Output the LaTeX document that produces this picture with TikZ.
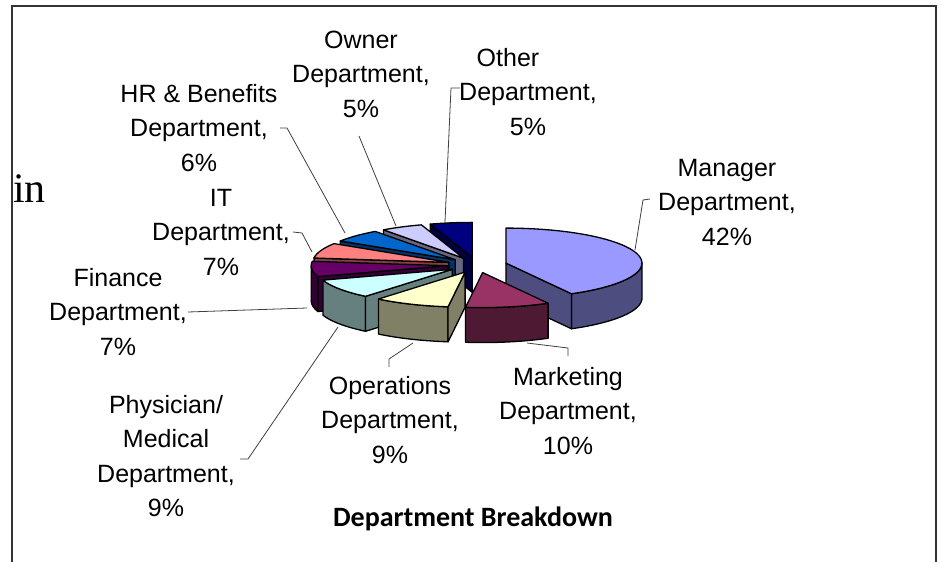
\documentclass[tikz,border=0pt]{standalone}
\usepackage{fontspec}
\setmainfont{Liberation Sans}
\newfontfamily\titlefont{Carlito}
\newfontfamily\seriffont{Liberation Serif}
\definecolor{cMan}{HTML}{9999FF}\definecolor{sMan}{HTML}{4D4D80}
\definecolor{cMkt}{HTML}{993366}\definecolor{sMkt}{HTML}{4D1933}
\definecolor{cOps}{HTML}{FFFFCC}\definecolor{sOps}{HTML}{808066}
\definecolor{cPhy}{HTML}{CCFFFF}\definecolor{sPhy}{HTML}{668080}
\definecolor{cFin}{HTML}{660066}\definecolor{sFin}{HTML}{330033}
\definecolor{cIT}{HTML}{FF8080}\definecolor{sIT}{HTML}{804040}
\definecolor{cHR}{HTML}{0066CC}\definecolor{sHR}{HTML}{003366}
\definecolor{cOwn}{HTML}{CCCCFF}\definecolor{sOwn}{HTML}{666680}
\definecolor{cOth}{HTML}{000080}\definecolor{sOth}{HTML}{000040}
\def\cx{477}\def\cy{265}\def\rx{136}\def\ry{35}\def\hh{35}\def\ex{0.22}
\newcommand\pslice[8]{%
  \pgfmathsetmacro\mm{(#1+#2)/2}%
  \pgfmathsetmacro\px{\cx+\ex*\rx*cos(\mm)}%
  \pgfmathsetmacro\py{\cy-\ex*\ry*sin(\mm)}%
  \if\relax\detokenize{#5}\relax\else
    \filldraw[slice,fill=#4] plot[domain=#5:#6,samples=30] ({\px+\rx*cos(\x)},{\py-\ry*sin(\x)}) -- plot[domain=#6:#5,samples=30] ({\px+\rx*cos(\x)},{\py+\hh-\ry*sin(\x)}) -- cycle;
  \fi
  \ifnum#7=1 \filldraw[slice,fill=#4] (\px,\py) -- ({\px+\rx*cos(#1)},{\py-\ry*sin(#1)}) -- ++(0,\hh) -- (\px,{\py+\hh}) -- cycle;\fi
  \ifnum#8=1 \filldraw[slice,fill=#4] (\px,\py) -- ({\px+\rx*cos(#2)},{\py-\ry*sin(#2)}) -- ++(0,\hh) -- (\px,{\py+\hh}) -- cycle;\fi
  \filldraw[slice,fill=#3] (\px,\py) -- plot[domain=#1:#2,samples=40] ({\px+\rx*cos(\x)},{\py-\ry*sin(\x)}) -- cycle;
}
\begin{document}
\begin{tikzpicture}[x=1pt,y=-1pt,
  slice/.style={draw=black,line width=1.3pt,line join=round},
  lead/.style={draw=black!75,line width=0.8pt},
  lbl/.style={font=\fontsize{25}{34.5}\selectfont,align=center,inner sep=0pt},
  frame/.style={draw=black!80,line width=1.5pt}]
\useasboundingbox (0,0) rectangle (943,562);
\fill[white] (0,0) rectangle (943,562);
\draw[frame] (12,562) -- (12,6) -- (936,6) -- (936,562);
\node[anchor=base west,inner sep=0pt,font=\seriffont\fontsize{42}{42}\selectfont] (in) at (13,202) {in};
% slices, back to front
\pslice{-270}{-252}{cOth}{sOth}{}{}{0}{1}
\pslice{-252}{-234}{cOwn}{sOwn}{}{}{0}{1}
\pslice{-234}{-212.4}{cHR}{sHR}{}{}{0}{1}
\pslice{-212.4}{-187.2}{cIT}{sIT}{}{}{0}{1}
\pslice{-61.2}{90}{cMan}{sMan}{-61.2}{0}{1}{0}
\pslice{-187.2}{-162}{cFin}{sFin}{-180}{-162}{0}{1}
\pslice{-162}{-129.6}{cPhy}{sPhy}{-162}{-129.6}{0}{1}
\pslice{-129.6}{-97.2}{cOps}{sOps}{-129.6}{-97.2}{0}{1}
\pslice{-97.2}{-61.2}{cMkt}{sMkt}{-97.2}{-61.2}{0}{0}
% labels
\node[lbl] (lOwn) at (361,74) {Owner\\Department,\\5\%};
\node[lbl] (lOth) at (528,92) {Other\hspace*{40pt}\\Department,\\5\%};
\node[lbl] (lHR) at (199,128) {HR \& Benefits\\Department,\\6\%};
\node[lbl] (lIT) at (221,232) {IT\\Department,\\7\%};
\node[lbl] (lFin) at (118,312) {Finance\\Department,\\7\%};
\node[lbl] (lPhy) at (166,456) {Physician/\\Medical\\Department,\\9\%};
\node[lbl] (lOps) at (390,420) {Operations\\Department,\\9\%};
\node[lbl] (lMkt) at (568,411) {Marketing\\Department,\\10\%};
\node[lbl] (lMan) at (727,202) {Manager\\Department,\\42\%};
\node[font=\titlefont\bfseries\fontsize{28}{28}\selectfont,inner sep=0pt] (title) at (473,519) {Department Breakdown};
% leaders
\coordinate (oth1) at (460,88); \coordinate (oth2) at (451,88); \coordinate (oth3) at (445,222);
\coordinate (own1) at (359,136); \coordinate (own2) at (396,226);
\coordinate (hr1) at (280,128); \coordinate (hr2) at (287,128); \coordinate (hr3) at (345,233);
\coordinate (it1) at (293,232); \coordinate (it2) at (302,233); \coordinate (it3) at (312,252);
\coordinate (fin1) at (188,312); \coordinate (fin2) at (307,308);
\coordinate (phy1) at (240,459); \coordinate (phy2) at (248,459); \coordinate (phy3) at (338,327);
\coordinate (ops1) at (389,367); \coordinate (ops2) at (389,359); \coordinate (ops3) at (413,343);
\coordinate (mkt1) at (568,356); \coordinate (mkt2) at (568,348); \coordinate (mkt3) at (527,343);
\coordinate (man1) at (650,199); \coordinate (man2) at (643,200); \coordinate (man3) at (635,250);
\draw[lead] (oth1) -- (oth2) -- (oth3);
\draw[lead] (own1) -- (own2);
\draw[lead] (hr1) -- (hr2) -- (hr3);
\draw[lead] (it1) -- (it2) -- (it3);
\draw[lead] (fin1) -- (fin2);
\draw[lead] (phy1) -- (phy2) -- (phy3);
\draw[lead] (ops1) -- (ops2) -- (ops3);
\draw[lead] (mkt1) -- (mkt2) -- (mkt3);
\draw[lead] (man1) -- (man2) -- (man3);
\end{tikzpicture}
\end{document}
